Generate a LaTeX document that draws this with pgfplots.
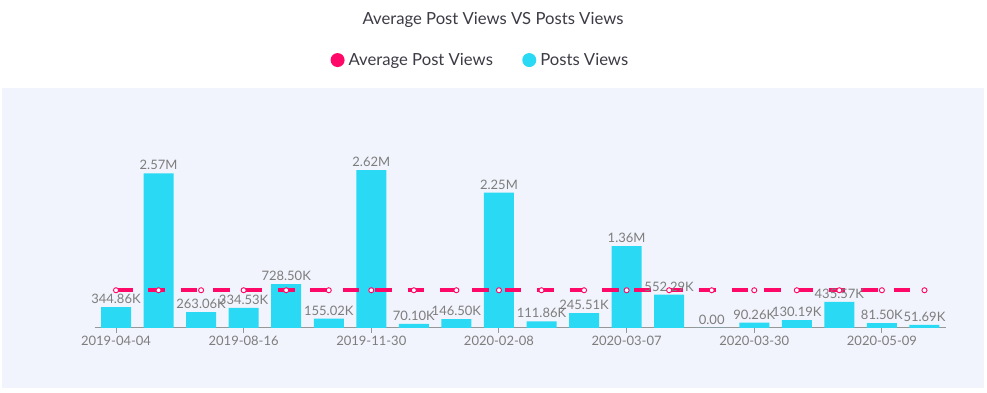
\documentclass[border=0pt]{standalone}
\usepackage{pgfplots}
\usepackage{pgfplotstable}
\pgfplotsset{compat=1.18}
\usepackage{fontspec}
\setmainfont{Lato}
\definecolor{pinkc}{RGB}{255,8,104}
\definecolor{cyanc}{RGB}{42,217,244}
\definecolor{panelc}{RGB}{241,244,252}
\definecolor{lblc}{RGB}{125,125,125}
\definecolor{titlec}{RGB}{60,60,70}
\pgfplotstableread{
x y label
0 0.34486 344.86K
1 2.57 2.57M
2 0.26306 263.06K
3 0.33453 334.53K
4 0.7285 728.50K
5 0.15502 155.02K
6 2.62 2.62M
7 0.0701 70.10K
8 0.1465 146.50K
9 2.25 2.25M
10 0.11186 111.86K
11 0.24551 245.51K
12 1.36 1.36M
13 0.55229 552.29K
14 0 0.00
15 0.09026 90.26K
16 0.13019 130.19K
17 0.43557 435.57K
18 0.0815 81.50K
19 0.05169 51.69K
}\posts
\pgfplotstableread{
x y
0 0.627
1 0.627
2 0.627
3 0.627
4 0.627
5 0.627
6 0.627
7 0.627
8 0.627
9 0.627
10 0.627
11 0.627
12 0.627
13 0.627
14 0.627
15 0.627
16 0.627
17 0.627
18 0.627
19 0.627
}\avg
\begin{document}
\begin{tikzpicture}
\fill[white] (0pt,0pt) rectangle (740.25pt,294pt);
\fill[panelc] (1.5pt,3pt) rectangle (738pt,228pt);
\node[font=\fontsize{12.5pt}{14pt}\selectfont, text=titlec] at (369.75pt,279pt) {Average Post Views VS Posts Views};
\begin{axis}[
  at={(87pt,48pt)}, anchor=origin,
  scale only axis,
  width=638.25pt, height=171.6pt,
  xmin=-0.5, xmax=19.5, ymin=0, ymax=3.8,
  axis x line*=bottom,
  axis y line=none,
  x axis line style={draw=lblc!80, line width=0.75pt, -},
  xtick={0,3,6,9,12,15,18},
  xticklabels={2019-04-04,2019-08-16,2019-11-30,2020-02-08,2020-03-07,2020-03-30,2020-05-09},
  tick align=outside,
  major tick length=3.5pt,
  x tick style={draw=lblc!80, line width=0.75pt},
  x tick label style={font=\fontsize{9.75pt}{11pt}\selectfont, text=lblc, yshift=1pt},
  /pgf/number format/assume math mode=true,
  clip=false,
  legend columns=2,
  legend style={draw=none, fill=none, at={(0.4536,1.171)}, anchor=center,
    font=\fontsize{12.5pt}{14pt}\selectfont, text=titlec,
    /tikz/every odd column/.append style={column sep=1pt},
    /tikz/every even column/.append style={column sep=20pt}},
  legend cell align=left,
  legend image code/.code={\fill[#1] (0pt,0pt) circle (5.25pt);},
]
\addlegendimage{fill=pinkc, draw=none}
\addlegendentry{Average Post Views}
\addlegendimage{fill=cyanc, draw=none}
\addlegendentry{Posts Views}
\addplot[ybar, bar width=22.5pt, fill=cyanc, draw=none,
  nodes near coords, point meta=explicit symbolic,
  every node near coord/.append style={font=\fontsize{9.75pt}{11pt}\selectfont, text=lblc, yshift=-1pt},
  forget plot]
  table[x=x, y=y, meta=label] {\posts};
\addplot[pinkc, line width=3pt, dash pattern=on 12.4pt off 11.9pt,
  mark=*, mark size=1.9pt, mark options={solid, fill=white, draw=pinkc, line width=0.7pt},
  forget plot]
  table[x=x, y=y] {\avg};
\end{axis}
\end{tikzpicture}
\end{document}
